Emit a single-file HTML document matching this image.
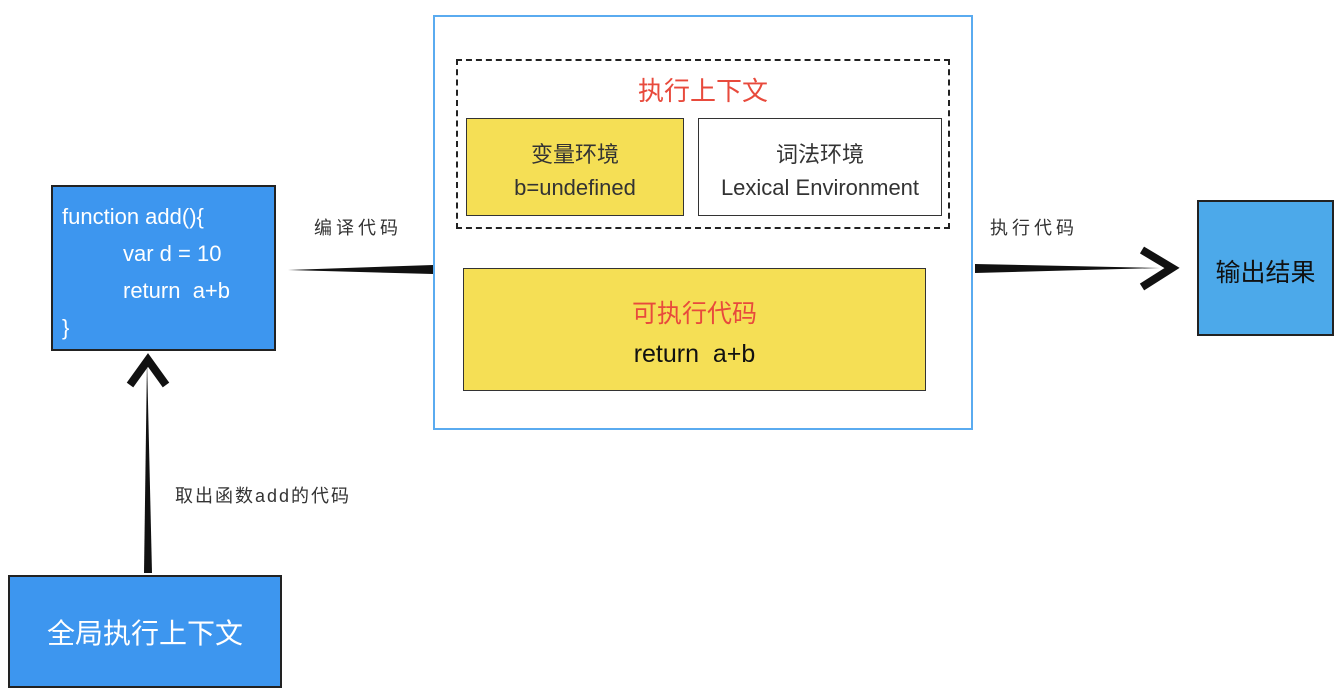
<!DOCTYPE html>
<html><head><meta charset="utf-8"><style>
body{margin:0;width:1340px;height:698px;background:#fff;position:relative;overflow:hidden;font-family:"Liberation Sans","Noto Sans CJK SC",sans-serif}
.b{position:absolute;box-sizing:border-box}
.t{position:absolute;white-space:nowrap}
</style></head><body>
<div class="b" style="left:51px;top:185px;width:225px;height:166px;background:#3d96ef;border:2px solid #222"></div>
<div class="t" style="left:62px;top:198px;color:#fff;font-size:22px;line-height:37px">function add(){<br><span style="padding-left:61px">var d = 10</span><br><span style="padding-left:61px">return&nbsp; a+b</span><br>}</div>
<div class="b" style="left:8px;top:575px;width:274px;height:113px;background:#3d96ef;border:2px solid #222"></div>
<div class="t" style="left:8px;top:612px;width:274px;text-align:center;color:#fff;font-size:28px">全局执行上下文</div>
<div class="b" style="left:1197px;top:200px;width:137px;height:136px;background:#4ca9ea;border:2px solid #222"></div>
<div class="t" style="left:1197px;top:253px;width:137px;text-align:center;color:#111;font-size:25px">输出结果</div>
<div class="b" style="left:433px;top:15px;width:540px;height:415px;border:2px solid #5aabf0"></div>
<div class="b" style="left:456px;top:59px;width:494px;height:170px;border:2px dashed #222"></div>
<div class="t" style="left:456px;top:71px;width:494px;text-align:center;color:#e84a3c;font-size:26px">执行上下文</div>
<div class="b" style="left:466px;top:118px;width:218px;height:98px;background:#f5df55;border:1.5px solid #333"></div>
<div class="t" style="left:466px;top:138px;width:218px;text-align:center;color:#333;font-size:22px;line-height:33px">变量环境<br>b=undefined</div>
<div class="b" style="left:698px;top:118px;width:244px;height:98px;background:#fff;border:1.5px solid #333"></div>
<div class="t" style="left:698px;top:138px;width:244px;text-align:center;color:#333;font-size:22px;line-height:33px">词法环境<br>Lexical Environment</div>
<div class="b" style="left:463px;top:268px;width:463px;height:123px;background:#f5df55;border:1.5px solid #333"></div>
<div class="t" style="left:463px;top:294px;width:463px;text-align:center;font-size:25px;line-height:40px"><span style="color:#e84a3c">可执行代码</span><br><span style="color:#111">return&nbsp; a+b</span></div>
<div class="t" style="left:314px;top:214px;font-size:18px;color:#333;letter-spacing:4px">编译代码</div>
<div class="t" style="left:990px;top:214px;font-size:18px;color:#333;letter-spacing:4px">执行代码</div>
<div class="t" style="left:175px;top:482px;font-size:18px;color:#333;letter-spacing:2px">取出函数add的代码</div>
<svg class="b" style="left:0;top:0" width="1340" height="698">
<path d="M288 270 L433 265 L433 274 Z" fill="#111"/>
<path d="M975 264 L1160 268 L975 273 Z" fill="#111"/>
<path d="M1142 250 L1172 268 L1142 287" stroke="#111" stroke-width="8" fill="none"/>
<path d="M144 573 L147 360 L152 573 Z" fill="#111"/>
<path d="M130 385 L148 360 L166 385" stroke="#111" stroke-width="8" fill="none"/>
</svg>
</body></html>
